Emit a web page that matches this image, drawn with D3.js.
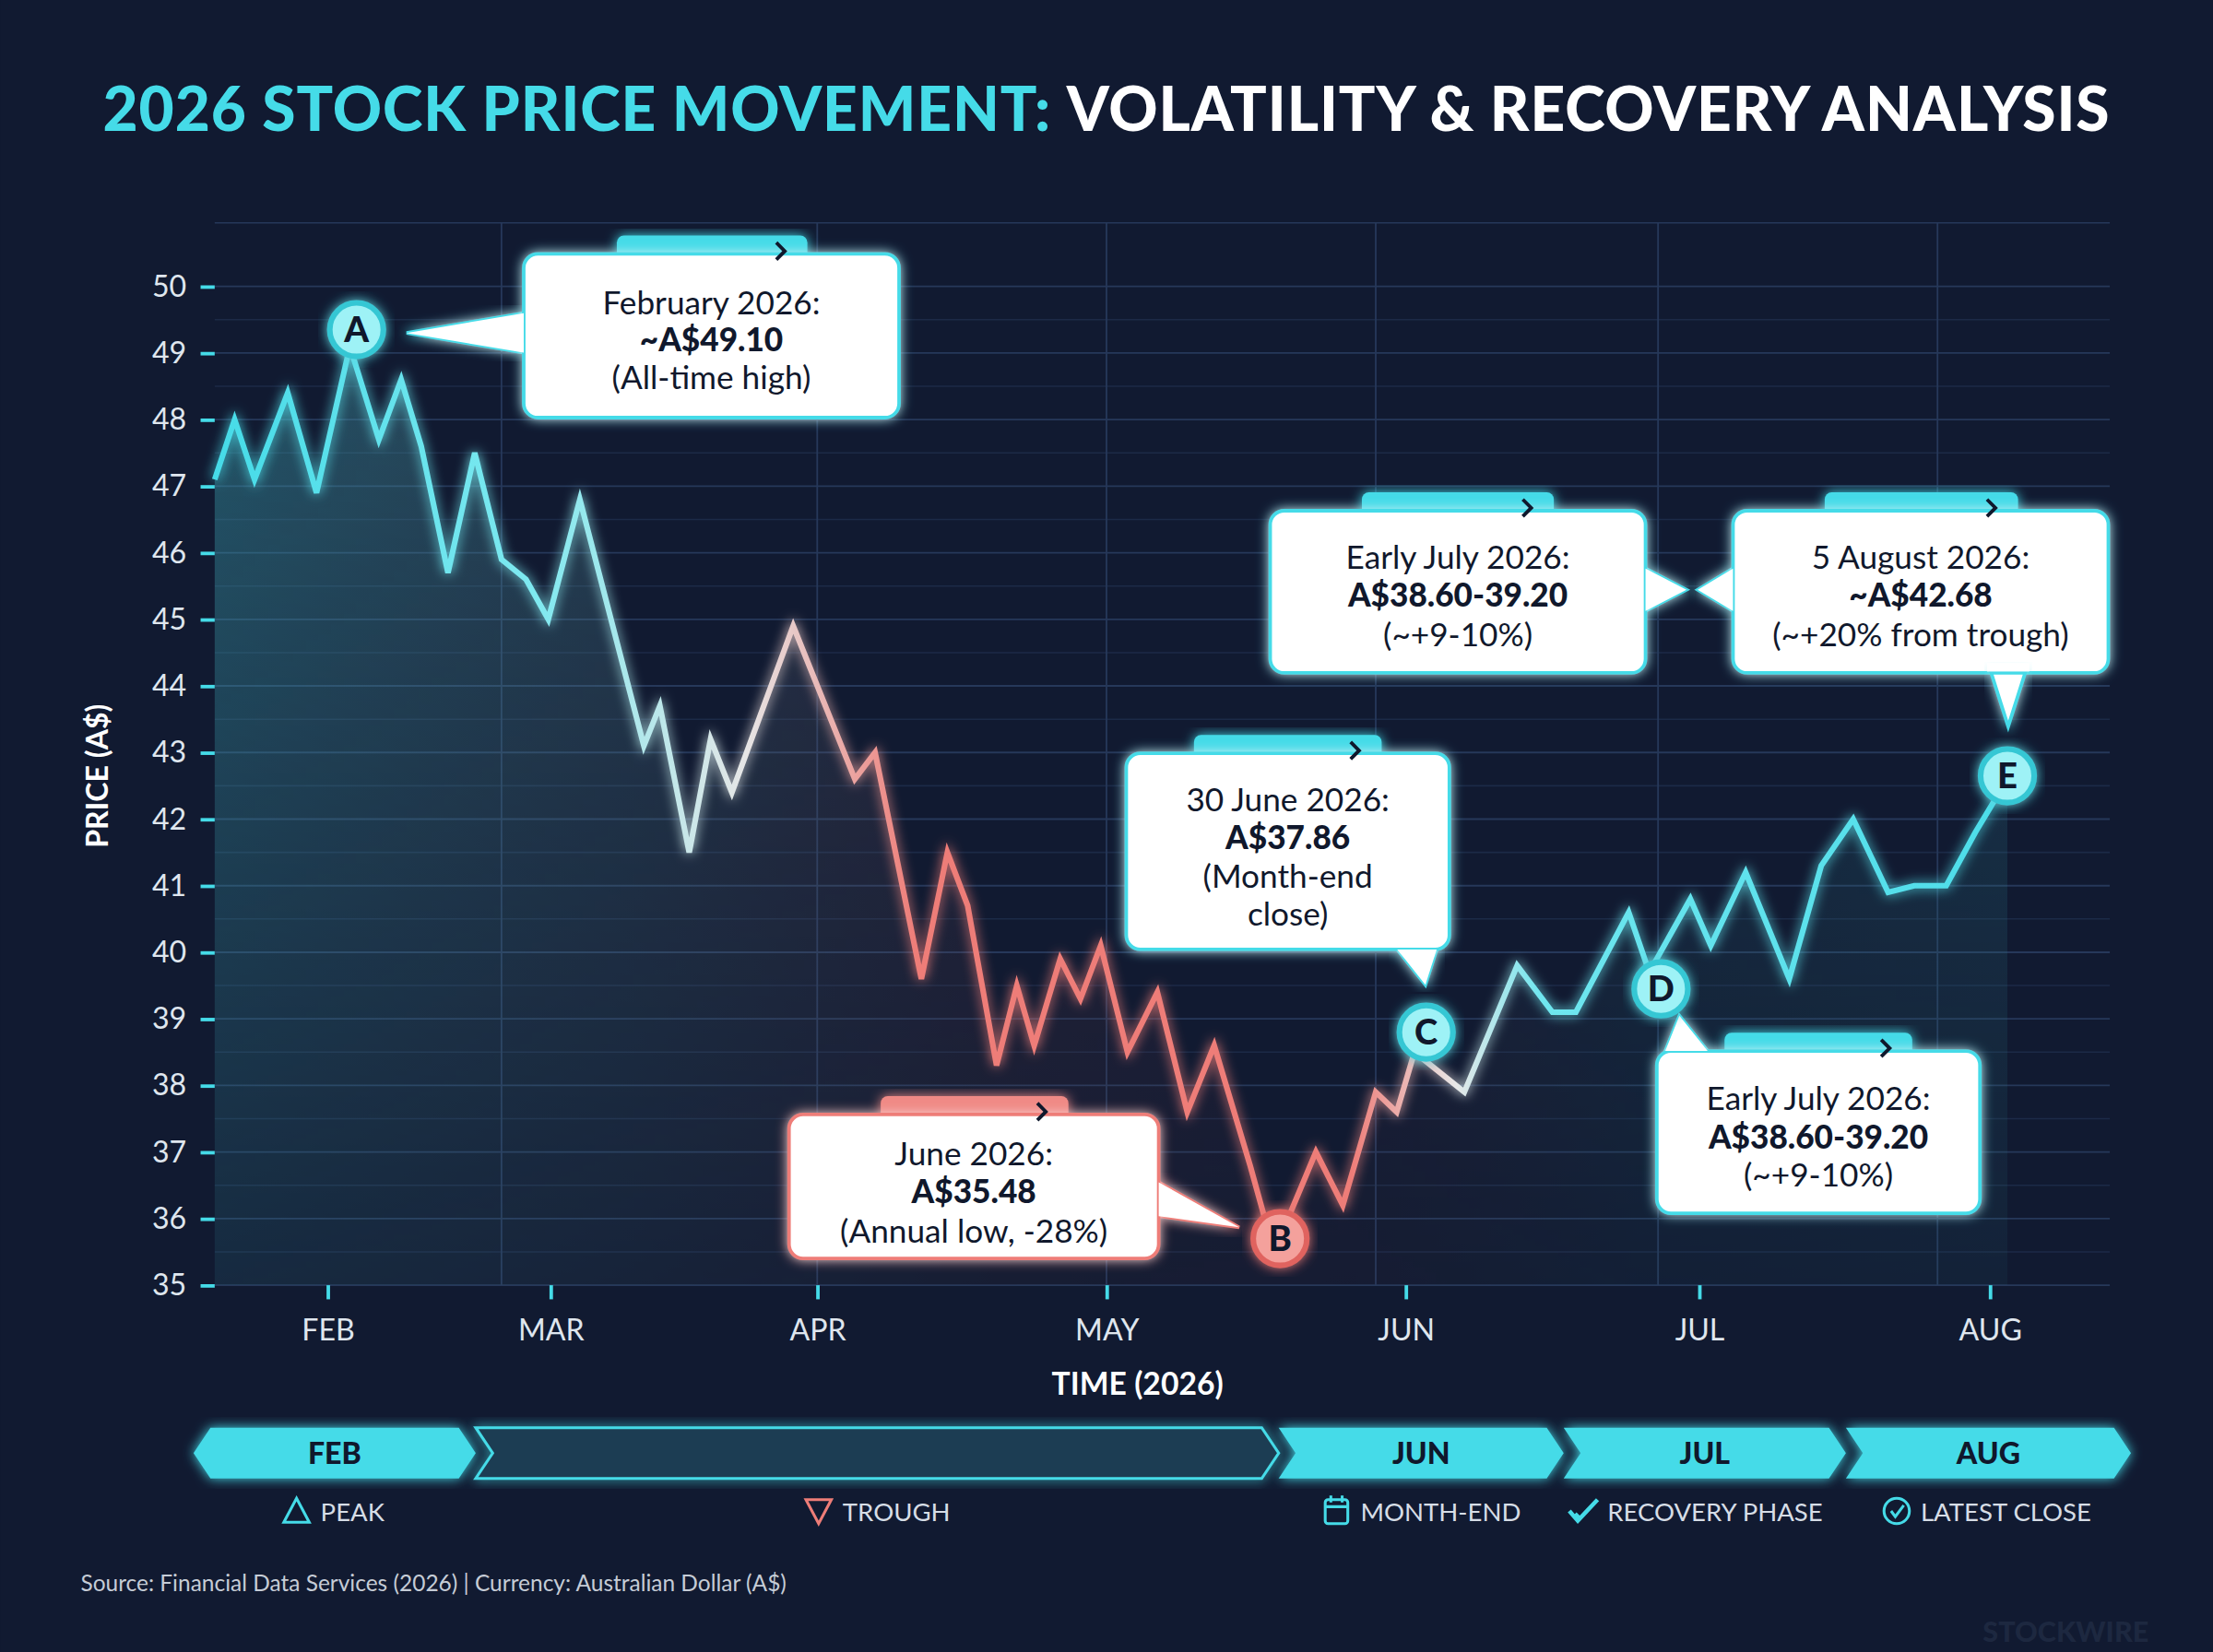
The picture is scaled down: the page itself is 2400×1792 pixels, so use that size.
<!DOCTYPE html>
<html><head><meta charset="utf-8">
<script src="https://cdn.jsdelivr.net/npm/d3@7"></script>
<style>html,body{margin:0;padding:0;background:#111a31;}svg{display:block;}</style>
</head><body>
<svg id="c" width="2400" height="1792" viewBox="0 0 1568 1171"></svg>
<script>
// ---- data ----
const monthPos = [-0.51,-0.42,-0.33,-0.18,-0.05,0.10,0.23,0.33,0.42,0.54,0.66,0.78,0.89,0.99,1.11,1.35,1.41,1.52,1.60,1.68,1.91,2.13,2.20,2.36,2.45,2.52,2.62,2.69,2.75,2.84,2.91,2.98,3.07,3.17,3.27,3.36,3.48,3.56,3.70,3.79,3.90,3.97,4.03,4.20,4.38,4.50,4.58,4.76,4.83,4.97,5.04,5.16,5.31,5.42,5.53,5.65,5.74,5.85,5.95,6.06];
const prices = [47.1,48.0,47.1,48.4,46.9,49.1,47.7,48.6,47.6,45.7,47.5,45.9,45.6,45.0,46.8,43.1,43.7,41.5,43.2,42.4,44.9,42.6,43.0,39.6,41.5,40.7,38.3,39.5,38.6,39.9,39.3,40.1,38.5,39.4,37.6,38.6,36.8,35.5,37.0,36.2,37.9,37.6,38.5,37.9,39.8,39.1,39.1,40.6,39.7,40.8,40.1,41.2,39.6,41.3,42.0,40.9,41.0,41.0,41.8,42.6];
const monthLabels = ["FEB","MAR","APR","MAY","JUN","JUL","AUG"];
const yTicks = [35,36,37,38,39,40,41,42,43,44,45,46,47,48,49,50];
const vGrid = [0.78,2.0,3.0,3.90,4.86,5.82];
const markerLetters = ["A","B","C","D","E"];
const markerX = [0.13,3.58,4.07,4.87,6.06];
const markerY = [49.35,35.7,38.8,39.45,42.65];
const calloutLines = [
 ["February 2026:","~A$49.10","(All-time high)"],
 ["June 2026:","A$35.48","(Annual low, -28%)"],
 ["30 June 2026:","A$37.86","(Month-end","close)"],
 ["Early July 2026:","A$38.60-39.20","(~+9-10%)"],
 ["5 August 2026:","~A$42.68","(~+20% from trough)"],
 ["Early July 2026:","A$38.60-39.20","(~+9-10%)"]
];
const phases = ["FEB","","JUN","JUL","AUG"];
const legendLabels = ["PEAK","TROUGH","MONTH-END","RECOVERY PHASE","LATEST CLOSE"];

// ---- drawing ----
const svg = d3.select("#c");
const CY="#45dbe8", RED="#ee7d78", BG="#111a31";
svg.append("rect").attr("width",1568).attr("height",1171).attr("fill",BG);
const defs = svg.append("defs");
const glow = defs.append("filter").attr("id","glow").attr("x","-20%").attr("y","-20%").attr("width","140%").attr("height","140%");
glow.append("feGaussianBlur").attr("stdDeviation",4).attr("result","b");
const m = glow.append("feMerge"); m.append("feMergeNode").attr("in","b"); m.append("feMergeNode").attr("in","SourceGraphic");

const x = d3.scaleLinear().domain([-0.51,0,1,2,3,4,5,6,6.41]).range([152,232,390,579,784,996,1204,1410,1495]);
const y = d3.scaleLinear().domain([35,50]).range([911,203]);
const pts = monthPos.map((d,i)=>[d,prices[i]]);

// title
const t = svg.append("text").attr("x",784).attr("y",93).attr("text-anchor","middle")
 .attr("font-family","Lato, 'Open Sans', sans-serif").attr("font-weight",900).attr("font-size",43).attr("letter-spacing",0.6);
t.append("tspan").attr("fill",CY).text("2026 STOCK PRICE MOVEMENT: ");
t.append("tspan").attr("fill","#fff").text("VOLATILITY & RECOVERY ANALYSIS");

// grid
const g = svg.append("g");
g.selectAll(".hg").data(yTicks).join("line").attr("x1",152).attr("x2",1495)
 .attr("y1",d=>y(d)).attr("y2",d=>y(d)).attr("stroke","#26385a").attr("stroke-width",1.2);
g.selectAll(".hg2").data(yTicks.slice(0,-1)).join("line").attr("x1",152).attr("x2",1495)
 .attr("y1",d=>y(d+0.5)).attr("y2",d=>y(d+0.5)).attr("stroke","#1c2a47").attr("stroke-width",1);
g.selectAll(".vg").data(vGrid).join("line").attr("y1",158).attr("y2",911)
 .attr("x1",d=>x(d)).attr("x2",d=>x(d)).attr("stroke","#26385a").attr("stroke-width",1.2);
svg.append("line").attr("x1",152).attr("x2",1495).attr("y1",158).attr("y2",158).attr("stroke","#26385a");

// gradients
const lg = defs.append("linearGradient").attr("id","lg").attr("gradientUnits","userSpaceOnUse")
 .attr("x1",152).attr("x2",1495).attr("y1",0).attr("y2",0);
[[0,CY],[0.17,"#7fe9f0"],[0.28,"#e6e6e6"],[0.37,RED],[0.6,RED],[0.655,"#e8e8e8"],[0.7,"#6fe6ef"],[1,CY]]
 .forEach(s=>lg.append("stop").attr("offset",s[0]).attr("stop-color",s[1]));
const ag = defs.append("linearGradient").attr("id","ag").attr("gradientUnits","userSpaceOnUse")
 .attr("x1",152).attr("x2",1495).attr("y1",0).attr("y2",0);
[[0,"#3fa7b5",0.45],[0.22,"#5a8e9b",0.32],[0.42,"#7a4c5c",0.25],[0.6,"#6a4458",0.2],[0.75,"#2c6878",0.3],[1,"#2f7f8e",0.35]]
 .forEach(s=>ag.append("stop").attr("offset",s[0]).attr("stop-color",s[1]).attr("stop-opacity",s[2]));
const af = defs.append("linearGradient").attr("id","af").attr("x1",0).attr("x2",0).attr("y1",0).attr("y2",1);
af.append("stop").attr("offset",0).attr("stop-color","#fff").attr("stop-opacity",1);
af.append("stop").attr("offset",1).attr("stop-color","#fff").attr("stop-opacity",0.25);
const mask = defs.append("mask").attr("id","am");
mask.append("rect").attr("x",0).attr("y",200).attr("width",1568).attr("height",720).attr("fill","url(#af)");

svg.append("path").datum(pts).attr("fill","url(#ag)").attr("mask","url(#am)")
 .attr("d",d3.area().x(d=>x(d[0])).y0(911).y1(d=>y(d[1])));
svg.append("path").datum(pts).attr("fill","none").attr("stroke","url(#lg)").attr("stroke-width",4)
 .attr("stroke-linejoin","miter").attr("filter","url(#glow)")
 .attr("d",d3.line().x(d=>x(d[0])).y(d=>y(d[1])));

// axes
const ya = svg.append("g").attr("transform","translate(152,0)")
 .call(d3.axisLeft(y).tickValues(yTicks).tickSize(10).tickPadding(10).tickFormat(d3.format("d")));
const xa = svg.append("g").attr("transform","translate(0,911)")
 .call(d3.axisBottom(x).tickValues([0,1,2,3,4,5,6]).tickSize(10).tickPadding(14).tickFormat(i=>monthLabels[i]));
[ya,xa].forEach(a=>{
 a.select(".domain").remove();
 a.selectAll("line").attr("stroke",CY).attr("stroke-width",2.5);
 a.selectAll("text").attr("fill","#dfe6ee").attr("font-size",21).attr("font-family","Lato, sans-serif");
});
svg.append("line").attr("x1",152).attr("x2",152).attr("y1",158).attr("y2",913).attr("stroke",CY).attr("stroke-width",3).attr("filter","url(#glow)");
svg.append("line").attr("x1",150).attr("x2",1497).attr("y1",911).attr("y2",911).attr("stroke",CY).attr("stroke-width",3).attr("filter","url(#glow)");
svg.append("text").attr("transform","translate(76,550) rotate(-90)").attr("text-anchor","middle")
 .attr("fill","#fff").attr("font-size",21).attr("font-weight",700).attr("font-family","Lato, sans-serif").text("PRICE (A$)");
svg.append("text").attr("x",806).attr("y",989).attr("text-anchor","middle")
 .attr("fill","#fff").attr("font-size",22).attr("font-weight",700).attr("font-family","Lato, sans-serif").text("TIME (2026)");

// callouts
const boxes = [
 {x:371,y:180,w:266,h:116,tab:[437,572],col:CY,ptr:[[371,222],[288,236],[371,250]]},
 {x:559,y:790,w:262,h:102,tab:[624,757],col:RED,ptr:[[821,838],[878,870],[821,862]]},
 {x:798,y:534,w:229,h:139,tab:[846,979],col:CY,ptr:[[990,673],[1010,698],[1018,673]]},
 {x:900,y:362,w:266,h:115,tab:[965,1101],col:CY,ptr:[[1166,403],[1195,418],[1166,433]]},
 {x:1228,y:362,w:266,h:115,tab:[1293,1430],col:CY,ptr:[[1228,403],[1203,418],[1228,433]]},
 {x:1174,y:745,w:229,h:115,tab:[1222,1355],col:CY,ptr:[[1180,745],[1190,720],[1210,745]]}
];
const lineY = [[215,241,268],[818,845,873],[567,594,621,648],[395,422,450],[395,422,450],[779,806,833]];
boxes.forEach((b,i)=>{
 const gg = svg.append("g");
 const tabCol = b.col===RED ? "#f08a86" : CY;
 gg.append("rect").attr("x",b.tab[0]).attr("y",b.y-13).attr("width",b.tab[1]-b.tab[0]).attr("height",24).attr("rx",5)
  .attr("fill",tabCol).attr("filter","url(#glow)");
 gg.append("path").attr("d",d3.line()(b.ptr)+"Z").attr("fill","#fff").attr("stroke",b.col).attr("stroke-width",2.5).attr("filter","url(#glow)");
 gg.append("rect").attr("x",b.x).attr("y",b.y).attr("width",b.w).attr("height",b.h).attr("rx",10)
  .attr("fill","#fff").attr("stroke",b.col).attr("stroke-width",2.5).attr("filter","url(#glow)");
 gg.append("path").attr("d",d3.line()(b.ptr)).attr("fill","#fff").attr("stroke","none");
 const cxp = b.tab[1]-19, cyp = b.y-2;
 gg.append("path").attr("d",`M${cxp-3},${cyp-6}L${cxp+3},${cyp}L${cxp-3},${cyp+6}`).attr("fill","none")
  .attr("stroke","#10182c").attr("stroke-width",2.5);
 const cx = b.x+b.w/2;
 calloutLines[i].forEach((s,j)=>{
  gg.append("text").attr("x",cx).attr("y",lineY[i][j]+8).attr("text-anchor","middle")
   .attr("font-family","Lato, sans-serif").attr("font-size",23).attr("fill","#10182c")
   .attr("font-weight",j===1?900:400).text(s);
 });
});
svg.append("path").attr("d","M1411,477L1423,515L1435,477Z").attr("fill","#fff").attr("stroke",CY).attr("stroke-width",2.5).attr("filter","url(#glow)");
svg.append("rect").attr("x",1408).attr("y",470).attr("width",30).attr("height",6).attr("fill","#fff");

// markers
markerLetters.forEach((L,i)=>{
 const red = L==="B";
 const cx=x(markerX[i]), cy=y(markerY[i]);
 svg.append("circle").attr("cx",cx).attr("cy",cy).attr("r",19).attr("fill",red?"#f4a19c":"#9ef2f6")
  .attr("stroke",red?"#e0635e":"#36c7d4").attr("stroke-width",4).attr("filter","url(#glow)");
 svg.append("text").attr("x",cx).attr("y",cy+9).attr("text-anchor","middle").attr("font-size",25)
  .attr("font-weight",900).attr("font-family","Lato, sans-serif").attr("fill","#10182c").text(L);
});

// timeline
const segs = [[137,337,true],[337,906,false],[906,1108,true],[1108,1308,true],[1308,1510,true]];
segs.forEach((s,i)=>{
 const [x0,x1,fill]=s, t0=1012,t1=1048,mid=1030,n=12;
 const p = i===0 ? [[x0,mid],[x0+n,t0],[x1-n,t0],[x1,mid],[x1-n,t1],[x0+n,t1]]
                 : [[x0,t0],[x1-n,t0],[x1,mid],[x1-n,t1],[x0,t1],[x0+n,mid]];
 svg.append("path").attr("d",d3.line()(p)+"Z").attr("fill",fill?CY:"#1f3e52")
  .attr("stroke",CY).attr("stroke-width",fill?0:2).attr("filter","url(#glow)");
 if(phases[i]) svg.append("text").attr("x",(x0+x1)/2).attr("y",1038).attr("text-anchor","middle")
  .attr("font-size",21).attr("font-weight",900).attr("font-family","Lato, sans-serif").attr("fill","#10182c").text(phases[i]);
});
const legX=[210,580,947,1122,1344];
legendLabels.forEach((L,i)=>{
 const lx=legX[i], ly=1071, c=i===1?RED:CY;
 const ig = svg.append("g").attr("fill","none").attr("stroke",c).attr("stroke-width",2);
 if(i===0) ig.append("path").attr("d",`M${lx},${ly-9}L${lx+9},${ly+8}L${lx-9},${ly+8}Z`);
 if(i===1) ig.append("path").attr("d",`M${lx-9},${ly-8}L${lx+9},${ly-8}L${lx},${ly+9}Z`);
 if(i===2){ig.append("rect").attr("x",lx-8).attr("y",ly-8).attr("width",16).attr("height",17).attr("rx",2);
  ig.append("path").attr("d",`M${lx-8},${ly-3}H${lx+8}M${lx-4},${ly-11}V${ly-6}M${lx+4},${ly-11}V${ly-6}`);}
 if(i===3) ig.append("path").attr("d",`M${lx-10},${ly}L${lx-4},${ly+7}L${lx+10},${ly-8}M${lx-6},${ly+2}L${lx-3},${ly+5}`).attr("stroke-width",3);
 if(i===4){ig.append("circle").attr("cx",lx).attr("cy",ly).attr("r",9);
  ig.append("path").attr("d",`M${lx-4},${ly}L${lx-1},${ly+4}L${lx+5},${ly-4}`);}
 svg.append("text").attr("x",lx+17).attr("y",ly+7).attr("font-size",18).attr("fill","#d6dde6")
  .attr("font-family","Lato, sans-serif").text(L);
});

svg.append("text").attr("x",57).attr("y",1128).attr("font-size",16).attr("fill","#c5ccd6")
 .attr("font-family","Lato, sans-serif").text("Source: Financial Data Services (2026) | Currency: Australian Dollar (A$)");
svg.append("text").attr("x",1405).attr("y",1164).attr("font-size",20).attr("font-weight",900).attr("fill","#1d2840")
 .attr("font-family","Lato, sans-serif").text("STOCKWIRE");
</script>
</body></html>
